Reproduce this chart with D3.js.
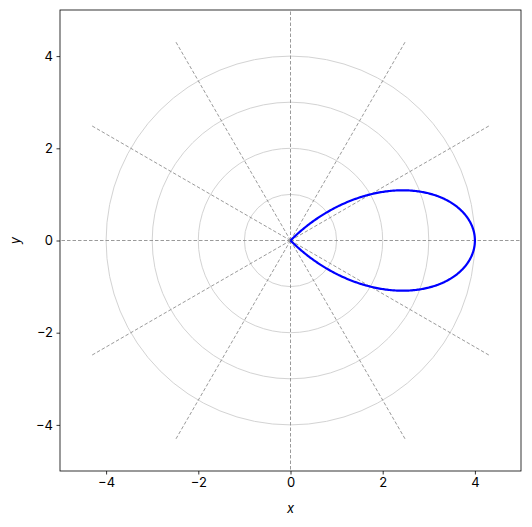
<!DOCTYPE html>
<html><head><meta charset="utf-8">
<script src="https://cdn.jsdelivr.net/npm/d3@7"></script>
<style>body{margin:0;background:#fff}</style></head>
<body><svg id="chart" width="532" height="527"></svg>
<script>
// curve: r = a*cos(k*theta), one petal
const roseAmp = 4, roseK = 2;
const thetaRange = [-Math.PI / 4, Math.PI / 4];
const circleRadii = [1, 2, 3, 4];
const spokeAnglesDeg = [0, 30, 60, 90, 120, 150, 180, 210, 240, 270, 300, 330];
const spokeLength = 5;
const tickValues = [-4, -2, 0, 2, 4];

const margin = {left: 60, top: 10, right: 11, bottom: 56};
const W = 532, H = 527;
const svg = d3.select("#chart");
const x = d3.scaleLinear().domain([-5, 5]).range([margin.left, W - margin.right]);
const y = d3.scaleLinear().domain([-5, 5]).range([H - margin.bottom, margin.top]);
const font = "Inter, DejaVu Sans";

svg.append("clipPath").attr("id", "clip").append("rect")
  .attr("x", x(-5)).attr("y", y(5)).attr("width", x(5) - x(-5)).attr("height", y(-5) - y(5));
const g = svg.append("g").attr("clip-path", "url(#clip)");

g.selectAll("circle").data(circleRadii).enter().append("circle")
  .attr("cx", x(0)).attr("cy", y(0)).attr("r", d => x(d) - x(0))
  .attr("fill", "none").attr("stroke", "#d3d3d3").attr("stroke-width", 1);

g.selectAll("line.spoke").data(spokeAnglesDeg).enter().append("line")
  .attr("x1", x(0)).attr("y1", y(0))
  .attr("x2", d => x(spokeLength * Math.cos(d * Math.PI / 180)))
  .attr("y2", d => y(spokeLength * Math.sin(d * Math.PI / 180)))
  .attr("stroke", "#808080").attr("stroke-width", 0.8).attr("stroke-dasharray", "3.5,2");

const n = 400;
const pts = d3.range(n + 1).map(i => {
  const t = thetaRange[0] + (thetaRange[1] - thetaRange[0]) * i / n;
  const r = roseAmp * Math.cos(roseK * t);
  return [r * Math.cos(t), r * Math.sin(t)];
});
g.append("path").datum(pts)
  .attr("d", d3.line().x(d => x(d[0])).y(d => y(d[1])))
  .attr("fill", "none").attr("stroke", "#0000ff").attr("stroke-width", 2.2);

svg.append("rect").attr("x", x(-5)).attr("y", y(5))
  .attr("width", x(5) - x(-5)).attr("height", y(-5) - y(5))
  .attr("fill", "none").attr("stroke", "#000").attr("stroke-width", 0.8);

const fmt = d => d < 0 ? "\u2212" + (-d) : d;
const xa = svg.append("g").attr("transform", `translate(0,${y(-5)})`)
  .call(d3.axisBottom(x).tickValues(tickValues).tickSize(3.5).tickPadding(3.5).tickFormat(fmt));
const ya = svg.append("g").attr("transform", `translate(${x(-5)},0)`)
  .call(d3.axisLeft(y).tickValues(tickValues).tickSize(3.5).tickPadding(3.5).tickFormat(fmt));
[xa, ya].forEach(a => {
  a.select(".domain").remove();
  a.selectAll("text").attr("font-family", font).attr("font-size", 13).attr("fill", "#000");
  a.selectAll("line").attr("stroke", "#000").attr("stroke-width", 0.8);
});

svg.append("text").attr("x", (x(-5) + x(5)) / 2).attr("y", H - 14)
  .attr("text-anchor", "middle").attr("font-family", font).attr("font-size", 13)
  .attr("font-style", "italic").text("x");
svg.append("text").attr("transform", `translate(20,${(y(-5) + y(5)) / 2}) rotate(-90)`)
  .attr("text-anchor", "middle").attr("font-family", font).attr("font-size", 13)
  .attr("font-style", "italic").text("y");
</script></body></html>
